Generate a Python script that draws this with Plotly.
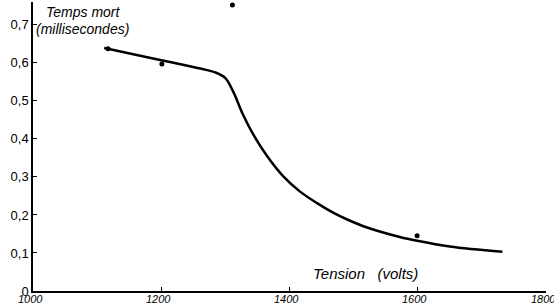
import plotly.graph_objects as go

# Curve
curve_v = [1111, 1200, 1261, 1284, 1300, 1312, 1328, 1343, 1365, 1390, 1416, 1443, 1468, 1490, 1521, 1572, 1599, 1650, 1732]
curve_t = [0.639, 0.607, 0.585, 0.575, 0.560, 0.525, 0.462, 0.413, 0.355, 0.302, 0.262, 0.231, 0.206, 0.188, 0.167, 0.142, 0.132, 0.117, 0.103]

# Measured points
pts_v = [1117, 1201, 1599, 1311]
pts_t = [0.637, 0.597, 0.145, 0.752]

x_ticks = [1000, 1200, 1400, 1600, 1800]
y_ticks = [0, 0.1, 0.2, 0.3, 0.4, 0.5, 0.6, 0.7]
y_labels = ["0", "0,1", "0,2", "0,3", "0,4", "0,5", "0,6", "0,7"]

fig = go.Figure()
fig.add_trace(go.Scatter(x=curve_v, y=curve_t, mode="lines",
                         line=dict(color="black", width=2.5, shape="spline", smoothing=1.0),
                         hoverinfo="skip"))
fig.add_trace(go.Scatter(x=pts_v, y=pts_t, mode="markers",
                         marker=dict(color="black", size=5), hoverinfo="skip"))

xlabel_font = dict(family="Liberation Sans Narrow, Liberation Sans, Arial", size=11, color="black", style="italic")
annotations = [
    dict(text=str(v), x=v, y=0, xref="x", yref="paper", showarrow=False,
         xanchor="center", yanchor="top", xshift=-3, yshift=0, font=xlabel_font)
    for v in x_ticks
]
annotations += [
    dict(text="Temps mort", x=1017, y=0.735, xref="x", yref="y", showarrow=False,
         xanchor="left", yanchor="middle",
         font=dict(family="Liberation Sans, Arial", size=14, color="black", style="italic")),
    dict(text="(millisecondes)", x=1002, y=0.69, xref="x", yref="y", showarrow=False,
         xanchor="left", yanchor="middle",
         font=dict(family="Liberation Sans, Arial", size=14, color="black", style="italic")),
    dict(text="Tension&nbsp;&nbsp;&nbsp;(volts)", x=1518, y=0.045, xref="x", yref="y", showarrow=False,
         xanchor="center", yanchor="middle",
         font=dict(family="Liberation Sans, Arial", size=15, color="black", style="italic")),
]

fig.update_layout(
    width=554, height=305,
    margin=dict(l=33, r=8, t=2, b=14),
    paper_bgcolor="white", plot_bgcolor="white",
    showlegend=False,
    xaxis=dict(range=[1000, 1800], tickvals=x_ticks, showticklabels=False,
               showgrid=False, zeroline=False, showline=True, linecolor="black", linewidth=1.5,
               ticks="inside", ticklen=4, tickcolor="black", automargin=False),
    yaxis=dict(range=[0, 0.76], tickvals=y_ticks, ticktext=y_labels,
               showgrid=False, zeroline=False, showline=True, linecolor="black", linewidth=1.5,
               ticks="inside", ticklen=4, tickcolor="black", automargin=False,
               tickfont=dict(family="Liberation Sans, Arial", size=13, color="black")),
    annotations=annotations,
)

fig.write_html("out.html", config={"displayModeBar": False},
               post_script="document.body.style.margin='0px';")
